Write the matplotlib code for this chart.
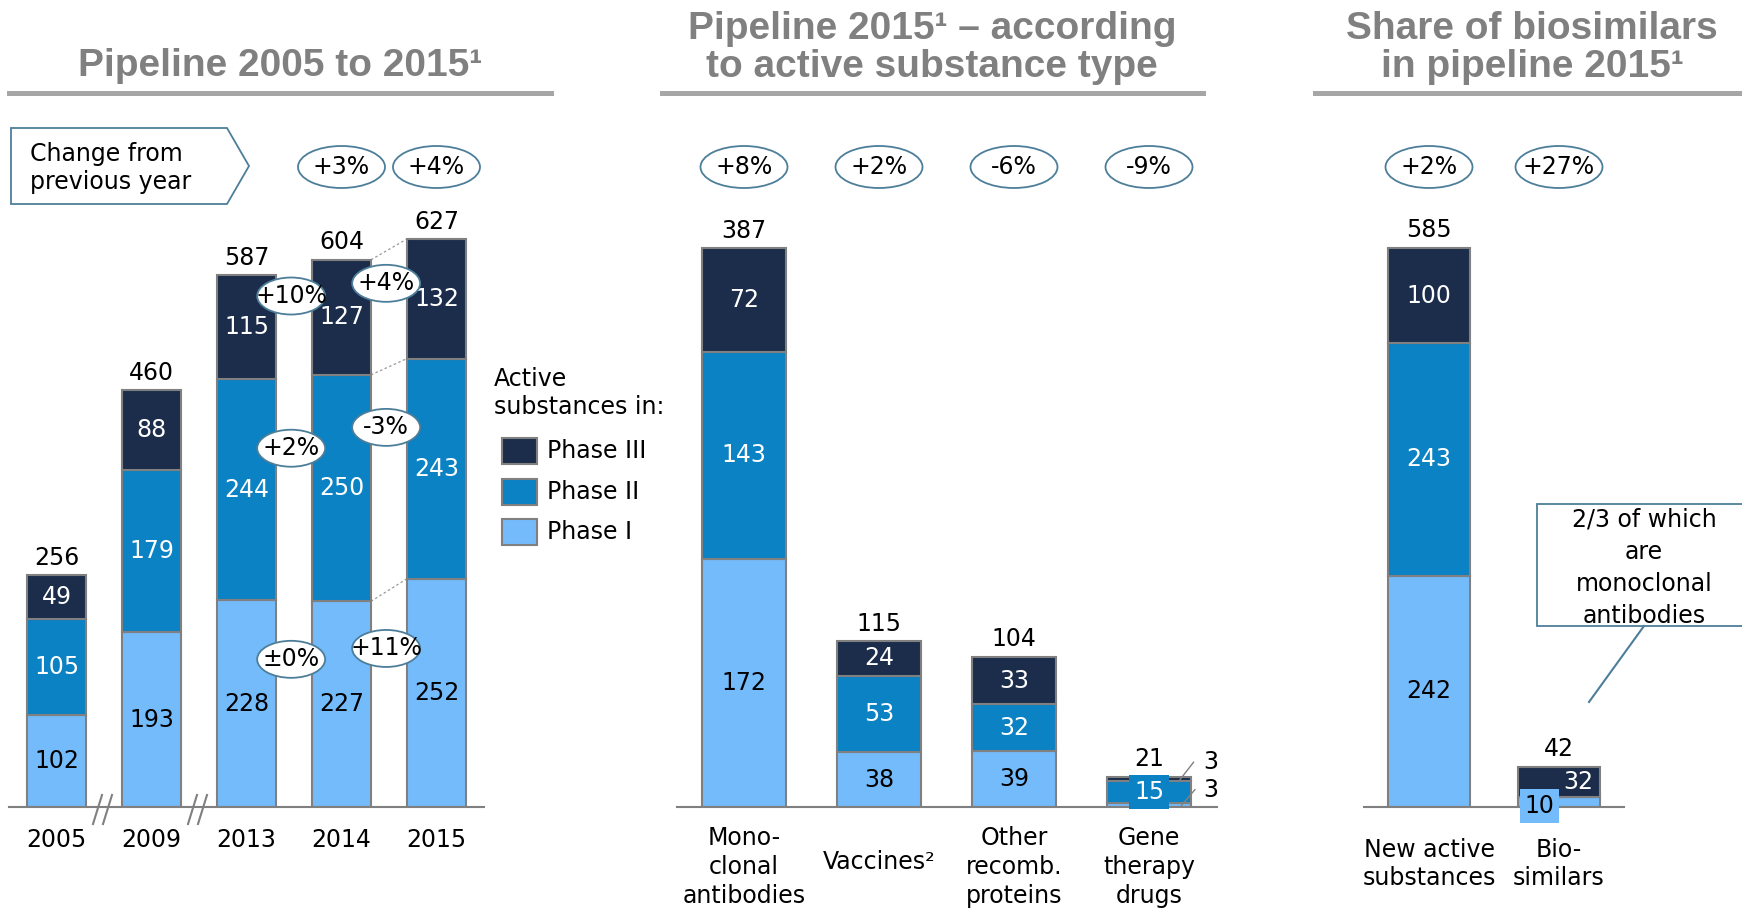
import matplotlib
matplotlib.use("Agg")
import matplotlib.pyplot as plt
from matplotlib.patches import Ellipse, Polygon, Rectangle
from matplotlib.lines import Line2D

W, H = 1742, 908
BASE = 807  # baseline, pixels from top

# ---- data ----
years = ["2005", "2009", "2013", "2014", "2015"]
y_phase1 = [102, 193, 228, 227, 252]
y_phase2 = [105, 179, 244, 250, 243]
y_phase3 = [49, 88, 115, 127, 132]
year_change = ["+3%", "+4%"]            # 2014, 2015 totals
change_13_14 = ["±0%", "+2%", "+10%"]   # phase I, II, III
change_14_15 = ["+11%", "-3%", "+4%"]

types = ["Mono-\nclonal\nantibodies", "Vaccines²", "Other\nrecomb.\nproteins", "Gene\ntherapy\ndrugs"]
t_phase1 = [172, 38, 39, 3]
t_phase2 = [143, 53, 32, 15]
t_phase3 = [72, 24, 33, 3]
type_change = ["+8%", "+2%", "-6%", "-9%"]

groups = ["New active\nsubstances", "Bio-\nsimilars"]
g_phase1 = [242, 10]
g_phase2 = [243, 0]
g_phase3 = [100, 32]
group_change = ["+2%", "+27%"]

C1, C2, C3 = "#74BBFB", "#0A82C3", "#1B2D4B"
EDGE = "#808080"
OVAL = "#4D7E99"
FS = 17
LS = 1.26

fig = plt.figure(figsize=(W / 100, H / 100), dpi=100)
plt.rcParams["font.family"] = ["DejaVu Sans"]


def fp(x, y):
    return x / W, 1 - y / H


def add_ax(x0, x1, n, ppy):
    ax = fig.add_axes([x0 / W, (H - BASE) / H, (x1 - x0) / W, BASE / H])
    ax.set_xlim(-0.5, n - 0.5)
    ax.set_ylim(0, BASE / ppy)
    for s in ["left", "top", "right"]:
        ax.spines[s].set_visible(False)
    ax.spines["bottom"].set_color(EDGE)
    ax.spines["bottom"].set_linewidth(1.5)
    ax.set_xticks([])
    ax.set_yticks([])
    ax.patch.set_alpha(0)
    return ax


def scale(ax):
    (a, b), (c, d) = ax.transData.transform([[0, 0], [1, 1]])
    return c - a, d - b


def oval(ax, x, y, txt, wpx, hpx):
    px, py = scale(ax)
    ax.add_patch(Ellipse((x, y), wpx / px, hpx / py, facecolor="white",
                         edgecolor=OVAL, lw=1.3, zorder=5, clip_on=False))
    ax.text(x, y, txt, ha="center", va="center", fontsize=FS, zorder=6)


def stack(ax, p1, p2, p3, width):
    x = range(len(p1))
    b2 = [a for a in p1]
    b3 = [a + b for a, b in zip(p1, p2)]
    kw = dict(width=width, edgecolor=EDGE, linewidth=1.5, zorder=2)
    ax.bar(x, p1, color=C1, **kw)
    ax.bar(x, p2, bottom=b2, color=C2, **kw)
    ax.bar(x, p3, bottom=b3, color=C3, **kw)
    return b2, b3


def total_label(ax, i, top):
    ax.annotate(str(top), (i, top), xytext=(0, 12.5), textcoords="offset points",
                ha="center", va="center", fontsize=FS)


def cat_label(ax, i, txt, dy_px):
    ax.annotate(txt, (i, 0), xycoords=("data", "axes fraction"), xytext=(0, -dy_px * 0.72),
                textcoords="offset points", ha="center", va="center", fontsize=FS,
                multialignment="center", linespacing=LS, annotation_clip=False)


# ---- left panel ----
ax1 = add_ax(9, 484, 5, 0.906)
b2, b3 = stack(ax1, y_phase1, y_phase2, y_phase3, 0.62)
for i in range(len(years)):
    ax1.text(i, y_phase1[i] / 2, str(y_phase1[i]), ha="center", va="center", fontsize=FS, zorder=3)
    ax1.text(i, b2[i] + y_phase2[i] / 2, str(y_phase2[i]), ha="center", va="center",
             fontsize=FS, color="white", zorder=3)
    ax1.text(i, b3[i] + y_phase3[i] / 2, str(y_phase3[i]), ha="center", va="center",
             fontsize=FS, color="white", zorder=3)
    total_label(ax1, i, b3[i] + y_phase3[i])
    cat_label(ax1, i, years[i], 33)

# dotted connectors 2014 -> 2015
for lo, hi in [(y_phase1[3], y_phase1[4]), (b3[3], b3[4]), (b3[3] + y_phase3[3], b3[4] + y_phase3[4])]:
    ax1.plot([3.31, 3.69], [lo, hi], ls=(0, (2, 2)), color="#999999", lw=0.9, zorder=1)

for j, (lvl13, lvl14) in enumerate([(163, 175), (396, 419), (564, 578)]):
    oval(ax1, 2.47, lvl13, change_13_14[j], 68, 37)
    oval(ax1, 3.47, lvl14, change_14_15[j], 68, 37)

top1 = (BASE - 167) / 0.906
oval(ax1, 3, top1, year_change[0], 87, 42)
oval(ax1, 4, top1, year_change[1], 87, 42)

# axis break marks
for xc in [104, 199]:
    for off in [-6, 4]:
        x0, y0 = fp(xc + off - 5, 824)
        x1, y1 = fp(xc + off + 4, 795)
        fig.add_artist(Line2D([x0, x1], [y0, y1], color=EDGE, lw=1.5))

# "Change from previous year" arrow box
pts = [fp(11, 128), fp(227, 128), fp(249, 166), fp(227, 204), fp(11, 204)]
fig.add_artist(Polygon(pts, closed=True, facecolor="white", edgecolor=OVAL, lw=1.3))
fig.text(*fp(30, 168), "Change from\nprevious year", ha="left", va="center", fontsize=FS,
         linespacing=LS)

# legend
fig.text(*fp(494, 393), "Active\nsubstances in:", ha="left", va="center", fontsize=FS,
         linespacing=LS)
for yc, c, lab in [(451, C3, "Phase III"), (492, C2, "Phase II"), (532, C1, "Phase I")]:
    x0, y0 = fp(502, yc + 13)
    fig.add_artist(Rectangle((x0, y0), 35 / W, 26 / H, facecolor=c, edgecolor=EDGE, lw=1.5))
    fig.text(*fp(547, yc), lab, ha="left", va="center", fontsize=FS)

# ---- middle panel ----
ax2 = add_ax(676.5, 1216.5, 4, 1.444)
b2, b3 = stack(ax2, t_phase1, t_phase2, t_phase3, 0.62)
top2 = (BASE - 167) / 1.444
for i in range(len(types)):
    total_label(ax2, i, b3[i] + t_phase3[i])
    oval(ax2, i, top2, type_change[i], 87, 42)
    cat_label(ax2, i, types[i], 55 if i == 1 else 60)
    if i < 3:
        ax2.text(i, t_phase1[i] / 2, str(t_phase1[i]), ha="center", va="center", fontsize=FS, zorder=3)
        ax2.text(i, b2[i] + t_phase2[i] / 2, str(t_phase2[i]), ha="center", va="center",
                 fontsize=FS, color="white", zorder=3)
        ax2.text(i, b3[i] + t_phase3[i] / 2, str(t_phase3[i]), ha="center", va="center",
                 fontsize=FS, color="white", zorder=3)
# gene therapy: small segments
ax2.text(3, b2[3] + t_phase2[3] / 2, str(t_phase2[3]), ha="center", va="center", fontsize=FS,
         color="white", zorder=4, bbox=dict(boxstyle="square,pad=0.2", fc=C2, ec="none"))
ax2.plot([3.23, 3.33], [b3[3] + 1, b3[3] + 13], color=EDGE, lw=1, zorder=4)
ax2.plot([3.24, 3.34], [1, 12], color=EDGE, lw=1, zorder=4)
ax2.text(3.4, b3[3] + 13, str(t_phase3[3]), ha="left", va="center", fontsize=FS)
ax2.text(3.4, 12, str(t_phase1[3]), ha="left", va="center", fontsize=FS)

# ---- right panel ----
ax3 = add_ax(1364, 1624, 2, 0.956)
b2, b3 = stack(ax3, g_phase1, g_phase2, g_phase3, 0.63)
top3 = (BASE - 167) / 0.956
for i in range(len(groups)):
    total_label(ax3, i, b3[i] + g_phase3[i])
    oval(ax3, i, top3, group_change[i], 87, 42)
    cat_label(ax3, i, groups[i], 57)
ax3.text(0, g_phase1[0] / 2, str(g_phase1[0]), ha="center", va="center", fontsize=FS, zorder=3)
ax3.text(0, b2[0] + g_phase2[0] / 2, str(g_phase2[0]), ha="center", va="center",
         fontsize=FS, color="white", zorder=3)
ax3.text(0, b3[0] + g_phase3[0] / 2, str(g_phase3[0]), ha="center", va="center",
         fontsize=FS, color="white", zorder=3)
ax3.text(1.15, b3[1] + g_phase3[1] / 2, str(g_phase3[1]), ha="center", va="center",
         fontsize=FS, color="white", zorder=3)
ax3.text(0.85, 1, str(g_phase1[1]), ha="center", va="center", fontsize=FS, zorder=4,
         bbox=dict(boxstyle="square,pad=0.2", fc=C1, ec="none"))

# callout box
x0, y0 = fp(1537, 626)
fig.add_artist(Rectangle((x0, y0), (1760 - 1537) / W, 122 / H, facecolor="white",
                         edgecolor=OVAL, lw=1.3))
fig.text(*fp(1644, 568), "2/3 of which\nare\nmonoclonal\nantibodies", ha="center", va="center",
         fontsize=FS, linespacing=1.43)
xa, ya = fp(1644, 626)
xb, yb = fp(1589, 702)
fig.add_artist(Line2D([xa, xb], [ya, yb], color=OVAL, lw=1.5))

# ---- titles ----
TCOL = "#808080"
tkw = dict(ha="center", va="center", fontsize=28, fontweight="bold", color=TCOL,
           family="Liberation Sans")
fig.text(*fp(280, 66), "Pipeline 2005 to 2015¹", **tkw)
fig.text(*fp(932, 29), "Pipeline 2015¹ – according", **tkw)
fig.text(*fp(932, 67), "to active substance type", **tkw)
fig.text(*fp(1532, 29), "Share of biosimilars", **tkw)
fig.text(*fp(1532, 67), "in pipeline 2015¹", **tkw)
for xa, xb in [(9, 551), (662, 1203), (1315, 1742)]:
    p0 = fp(xa, 93)
    p1 = fp(xb, 93)
    fig.add_artist(Line2D([p0[0], p1[0]], [p0[1], p1[1]], color="#A6A6A6", lw=3.6))

fig.savefig("out.png", dpi=100)
